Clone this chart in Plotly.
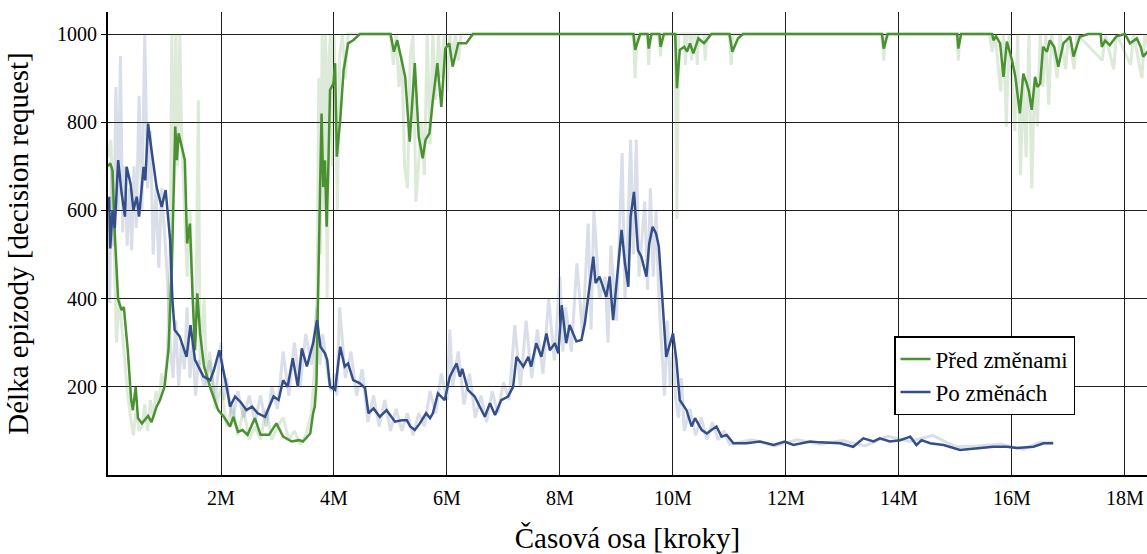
import plotly.graph_objects as go

# ---------------- data (x in millions of steps) ----------------
green_x = [0.0, 0.04, 0.08, 0.12, 0.18, 0.24, 0.28, 0.35, 0.41, 0.44, 0.49, 0.53, 0.6, 0.71, 0.77, 0.86, 0.92,
           1.0, 1.07, 1.13, 1.19, 1.22, 1.25, 1.29, 1.36, 1.40, 1.45, 1.50, 1.54, 1.58, 1.63, 1.70, 1.82, 1.95,
           2.05, 2.16, 2.22, 2.30, 2.38, 2.47, 2.6, 2.7, 2.85, 2.98, 3.1, 3.25, 3.38, 3.45, 3.58, 3.63, 3.66,
           3.69, 3.72, 3.75, 3.78, 3.81, 3.84, 3.87, 3.90, 3.93, 3.99, 4.02, 4.05, 4.11, 4.17, 4.25, 4.34, 4.46,
           5.0, 5.06, 5.12, 5.2, 5.26, 5.34, 5.43, 5.5, 5.57, 5.62, 5.69, 5.75, 5.83, 5.9, 5.97, 6.04, 6.1, 6.2,
           6.34, 6.46, 9.3, 9.33, 9.42, 9.55, 9.57, 9.62, 9.76, 9.78, 9.84, 10.04, 10.07, 10.12, 10.2, 10.25,
           10.3, 10.36, 10.45, 10.55, 10.68, 11.0, 11.05, 11.15, 11.24, 13.7, 13.73, 13.8, 15.03, 15.05, 15.1,
           15.65, 15.67, 15.72, 15.79, 15.85, 15.91, 16.0, 16.06, 16.14, 16.2, 16.26, 16.3, 16.35, 16.41, 16.45,
           16.5, 16.55, 16.62, 16.67, 16.75, 16.82, 16.91, 17.03, 17.09, 17.2, 17.35, 17.57, 17.59, 17.65, 17.73,
           17.85, 18.0, 18.09, 18.15, 18.21, 18.28, 18.32, 18.4]
green_y = [700, 707, 690, 548, 397, 374, 381, 283, 170, 147, 200, 129, 117, 134, 120, 155, 170,
           200, 283, 472, 790, 714, 775, 752, 714, 525, 570, 397, 283, 412, 321, 246, 194, 147,
           132, 110, 132, 98, 102, 91, 129, 91, 91, 117, 87, 76, 79, 76, 94, 140, 155,
           211, 472, 624, 820, 653, 714, 563, 699, 873, 888, 934, 722, 805, 918, 979, 986, 1000,
           1000, 960, 986, 941, 903, 756, 934, 767, 718, 760, 775, 850, 934, 835, 967, 979, 926, 979,
           979, 1000, 1000, 964, 1000, 1000, 967, 1000, 1000, 971, 1000, 1000, 877, 964, 971, 960,
           979, 956, 990, 979, 1000, 1000, 960, 990, 1000, 1000, 967, 1000, 1000, 967, 1000,
           1000, 986, 995, 979, 903, 983, 941, 903, 820, 910, 888, 870, 828, 903, 880,
           888, 971, 960, 986, 970, 926, 979, 994, 949, 994, 1000, 1000, 971, 985, 975,
           995, 1000, 979, 985, 990, 970, 949, 960]

green_raw_x = [0.0, 0.05, 0.1, 0.15, 0.2, 0.25, 0.3, 0.35, 0.4, 0.45, 0.5, 0.55, 0.6, 0.65, 0.7, 0.75, 0.8, 0.85,
               0.9, 0.95, 1.0, 1.05, 1.1, 1.13, 1.17, 1.2, 1.23, 1.27, 1.3, 1.35, 1.4, 1.45, 1.5, 1.55, 1.6, 1.63,
               1.7, 1.75, 1.8, 1.9, 2.0, 2.1, 2.2, 2.3, 2.4, 2.5, 2.6, 2.7, 2.8, 2.9, 3.0, 3.1, 3.2, 3.3, 3.4,
               3.5, 3.6, 3.65, 3.7, 3.73, 3.76, 3.79, 3.82, 3.85, 3.88, 3.91, 3.94, 3.97, 4.0, 4.03, 4.06, 4.1,
               4.15, 4.2, 4.25, 4.4, 5.0, 5.05, 5.1, 5.15, 5.2, 5.25, 5.3, 5.35, 5.4, 5.45, 5.5, 5.55, 5.6, 5.65,
               5.7, 5.75, 5.8, 5.85, 5.9, 5.95, 6.0, 6.05, 6.1, 6.15, 6.2, 6.25, 6.3, 9.3, 9.33, 9.36, 9.55,
               9.57, 9.6, 9.75, 9.78, 9.81, 10.04, 10.07, 10.1, 10.2, 10.22, 10.25, 10.3, 10.33, 10.35, 10.4,
               10.43, 10.45, 10.55, 10.57, 10.6, 11.0, 11.03, 11.06, 13.7, 13.73, 13.76, 15.03, 15.05, 15.08,
               15.6, 15.65, 15.7, 15.8, 15.85, 15.9, 15.95, 16.0, 16.05, 16.1, 16.15, 16.2, 16.25, 16.3, 16.35,
               16.4, 16.45, 16.5, 16.55, 16.6, 16.65, 16.7, 16.8, 16.85, 16.95, 17.0, 17.1, 17.15, 17.6, 17.65,
               17.8, 17.85, 18.1, 18.15, 18.3, 18.35, 18.45]
green_raw_y = [720, 760, 560, 300, 400, 320, 250, 180, 130, 90, 150, 100, 110, 160, 100, 170, 130, 190,
               160, 230, 200, 280, 500, 1000, 650, 1000, 700, 1000, 780, 600, 450, 600, 420, 300, 850, 250,
               400, 200, 280, 150, 200, 110, 160, 90, 150, 80, 110, 80, 150, 80, 110, 130, 80, 100, 70,
               90, 140, 230, 400, 900, 500, 1000, 600, 1000, 400, 950, 1000, 700, 1000, 820, 600, 950,
               1000, 900, 1000, 1000, 1000, 930, 1000, 880, 950, 700, 650, 950, 1000, 620, 700, 800, 680, 1000,
               750, 1000, 850, 1000, 900, 1000, 870, 1000, 950, 1000, 940, 1000, 1000, 1000, 900, 1000, 1000,
               930, 1000, 1000, 950, 1000, 1000, 580, 1000, 1000, 930, 1000, 1000, 940, 1000, 1000,
               930, 1000, 1000, 940, 1000, 1000, 930, 1000, 1000, 940, 1000, 1000, 940, 1000,
               1000, 960, 1000, 870, 1000, 790, 1000, 880, 780, 1000, 680, 900, 720, 1000, 650,
               900, 790, 1000, 880, 1000, 840, 1000, 900, 1000, 920, 1000, 920, 1000, 940, 1000,
               920, 1000, 930, 1000, 900, 1000, 950]

blue_x = [0.0, 0.02, 0.04, 0.08, 0.12, 0.18, 0.24, 0.3, 0.33, 0.4, 0.45, 0.51, 0.55, 0.63, 0.66, 0.71, 0.77,
          0.86, 0.95, 1.02, 1.10, 1.14, 1.18, 1.27, 1.39, 1.46, 1.54, 1.62, 1.69, 1.81, 1.88, 1.97, 2.04, 2.10,
          2.16, 2.25, 2.35, 2.45, 2.55, 2.65, 2.78, 2.93, 3.02, 3.10, 3.18, 3.27, 3.36, 3.43, 3.52, 3.63, 3.70,
          3.76, 3.84, 3.88, 3.93, 4.02, 4.11, 4.19, 4.25, 4.34, 4.46, 4.55, 4.61, 4.7, 4.81, 4.93, 5.08, 5.2,
          5.29, 5.35, 5.43, 5.52, 5.63, 5.70, 5.75, 5.84, 5.96, 6.05, 6.17, 6.23, 6.27, 6.37, 6.49, 6.58, 6.67,
          6.76, 6.85, 6.96, 7.08, 7.17, 7.23, 7.35, 7.44, 7.49, 7.58, 7.67, 7.76, 7.82, 7.91, 7.97, 8.03, 8.11,
          8.17, 8.29, 8.38, 8.44, 8.53, 8.59, 8.63, 8.70, 8.82, 8.88, 8.94, 9.03, 9.09, 9.15, 9.21, 9.25, 9.31,
          9.38, 9.44, 9.53, 9.58, 9.64, 9.70, 9.75, 9.81, 9.88, 10.0, 10.06, 10.12, 10.24, 10.33, 10.39, 10.51,
          10.60, 10.68, 10.77, 10.86, 10.95, 11.07, 11.3, 11.54, 11.78, 11.98, 12.13, 12.43, 12.6, 12.96,
          13.19, 13.37, 13.55, 13.66, 13.84, 14.02, 14.2, 14.31, 14.4, 14.55, 14.79, 15.08, 15.38, 15.67,
          15.91, 16.09, 16.38, 16.56, 16.73]
blue_y = [600, 631, 514, 600, 560, 714, 640, 586, 699, 660, 601, 631, 586, 699, 668, 797, 737,
          653, 608, 646, 533, 397, 329, 314, 268, 340, 261, 240, 223, 215, 240, 283, 240, 200,
          155, 178, 165, 147, 155, 140, 132, 178, 170, 215, 200, 265, 200, 287, 246, 299, 351,
          291, 276, 261, 200, 193, 291, 246, 253, 215, 208, 197, 140, 151, 132, 147, 121, 124,
          124, 110, 102, 117, 140, 129, 140, 185, 170, 223, 253, 223, 241, 193, 178, 155, 132,
          163, 136, 170, 178, 200, 268, 246, 268, 246, 299, 268, 321, 283, 299, 276, 385, 299,
          340, 303, 306, 344, 442, 495, 435, 450, 404, 450, 351, 472, 556, 480, 427, 586, 642,
          510, 495, 450, 525, 563, 548, 518, 397, 268, 321, 261, 170, 147, 110, 129, 102,
          94, 102, 110, 87, 91, 72, 72, 76, 68, 76, 68, 76, 74, 72,
          64, 83, 76, 83, 76, 79, 87, 68, 79, 72, 68, 57, 61, 64,
          64, 61, 64, 72, 72]

blue_raw_x = [0.0, 0.03, 0.06, 0.1, 0.14, 0.18, 0.22, 0.26, 0.3, 0.34, 0.38, 0.42, 0.46, 0.5, 0.55, 0.6, 0.65,
              0.7, 0.75, 0.8, 0.85, 0.9, 0.95, 1.0, 1.05, 1.1, 1.15, 1.2, 1.25, 1.3, 1.35, 1.4, 1.45, 1.5, 1.55,
              1.6, 1.7, 1.8, 1.9, 2.0, 2.05, 2.1, 2.2, 2.3, 2.4, 2.5, 2.6, 2.7, 2.8, 2.9, 3.0, 3.1, 3.2, 3.3,
              3.4, 3.5, 3.6, 3.7, 3.75, 3.8, 3.9, 3.95, 4.0, 4.05, 4.1, 4.15, 4.2, 4.3, 4.4, 4.5, 4.6, 4.7, 4.8,
              4.9, 5.0, 5.1, 5.2, 5.3, 5.4, 5.5, 5.6, 5.7, 5.8, 5.9, 6.0, 6.05, 6.1, 6.2, 6.3, 6.4, 6.5, 6.6,
              6.7, 6.8, 6.9, 7.0, 7.1, 7.2, 7.3, 7.4, 7.5, 7.6, 7.7, 7.8, 7.9, 8.0, 8.05, 8.1, 8.2, 8.3, 8.4,
              8.5, 8.55, 8.6, 8.7, 8.8, 8.85, 8.9, 9.0, 9.1, 9.15, 9.2, 9.25, 9.3, 9.35, 9.4, 9.5, 9.55, 9.6,
              9.65, 9.7, 9.75, 9.8, 9.85, 9.9, 9.95, 10.0, 10.05, 10.1, 10.15, 10.2, 10.3, 10.4, 10.5, 10.6,
              10.7, 10.8, 10.9, 11.0, 11.4, 11.8, 12.2, 12.6, 13.0, 13.4, 13.8, 14.2, 14.6, 15.0, 15.4, 15.8,
              16.2, 16.5, 16.73]
blue_raw_y = [600, 390, 700, 520, 880, 600, 950, 550, 700, 520, 650, 510, 700, 560, 860, 600, 1000,
              650, 780, 500, 650, 470, 650, 560, 450, 300, 220, 350, 200, 300, 240, 380, 220, 300, 180,
              260, 200, 260, 170, 300, 170, 220, 120, 190, 130, 180, 120, 180, 110, 200, 150, 280, 180, 300,
              200, 320, 250, 380, 250, 320, 220, 190, 230, 180, 380, 300, 220, 280, 180, 240, 120, 180, 110,
              170, 100, 150, 100, 140, 90, 140, 110, 190, 140, 230, 170, 330, 200, 280, 160, 230, 130, 180,
              120, 190, 140, 210, 170, 340, 200, 350, 220, 330, 230, 400, 260, 450, 280, 380, 280, 480, 320,
              570, 330, 600, 400, 450, 300, 520, 350, 730, 400, 550, 760, 500, 760, 450, 620, 420, 650,
              450, 600, 400, 300, 180, 350, 200, 280, 170, 130, 220, 100, 150, 90, 130, 80,
              120, 80, 100, 70, 80, 66, 80, 70, 78, 66, 88, 76, 90, 64, 66, 70,
              58, 74, 74]

x_tickvals = [2, 4, 6, 8, 10, 12, 14, 16, 18]
x_ticktext = ["2M", "4M", "6M", "8M", "10M", "12M", "14M", "16M", "18M"]
y_tickvals = [200, 400, 600, 800, 1000]
y_ticktext = ["200", "400", "600", "800", "1000"]

series_names = ["Před změnami", "Po změnách"]
GREEN = "#4a9132"
BLUE = "#344f88"
FONT = "Liberation Serif"

fig = go.Figure()
fig.add_trace(go.Scatter(x=green_raw_x, y=green_raw_y, mode="lines", line=dict(color=GREEN, width=3),
                         opacity=0.18, showlegend=False, hoverinfo="skip"))
fig.add_trace(go.Scatter(x=blue_raw_x, y=blue_raw_y, mode="lines", line=dict(color=BLUE, width=3),
                         opacity=0.18, showlegend=False, hoverinfo="skip"))
fig.add_trace(go.Scatter(x=green_x, y=green_y, mode="lines", name=series_names[0],
                         line=dict(color=GREEN, width=2.5)))
fig.add_trace(go.Scatter(x=blue_x, y=blue_y, mode="lines", name=series_names[1],
                         line=dict(color=BLUE, width=2.5)))

fig.update_layout(
    width=1147, height=554,
    margin=dict(l=108, r=0, t=12, b=79),
    paper_bgcolor="white", plot_bgcolor="white",
    font=dict(family=FONT, color="black", size=20),
    showlegend=True,
    legend=dict(x=0.7565, y=0.30, xanchor="left", yanchor="top",
                bgcolor="white", bordercolor="black", borderwidth=1.5,
                font=dict(family=FONT, size=23, color="black"),
                itemwidth=30, tracegroupgap=2),
    xaxis=dict(range=[0, 18.39], tickvals=x_tickvals, ticktext=x_ticktext,
               showgrid=True, gridcolor="#1e1e1e", gridwidth=1.2, zeroline=False,
               showline=True, linecolor="black", linewidth=2.2, ticks="", ticklabelstandoff=4,
               tickfont=dict(family=FONT, size=20),
               title=dict(text="Časová osa [kroky]", font=dict(family=FONT, size=29), standoff=20)),
    yaxis=dict(range=[0, 1050], tickvals=y_tickvals, ticktext=y_ticktext,
               showgrid=True, gridcolor="#1e1e1e", gridwidth=1.2, zeroline=False,
               showline=True, linecolor="black", linewidth=2.2, ticks="outside", ticklen=5,
               tickcolor="black", tickwidth=1.2,
               tickfont=dict(family=FONT, size=20),
               title=dict(text="Délka epizody [decision request]", font=dict(family=FONT, size=29),
                          standoff=20)),
)

fig.write_html("out.html")
